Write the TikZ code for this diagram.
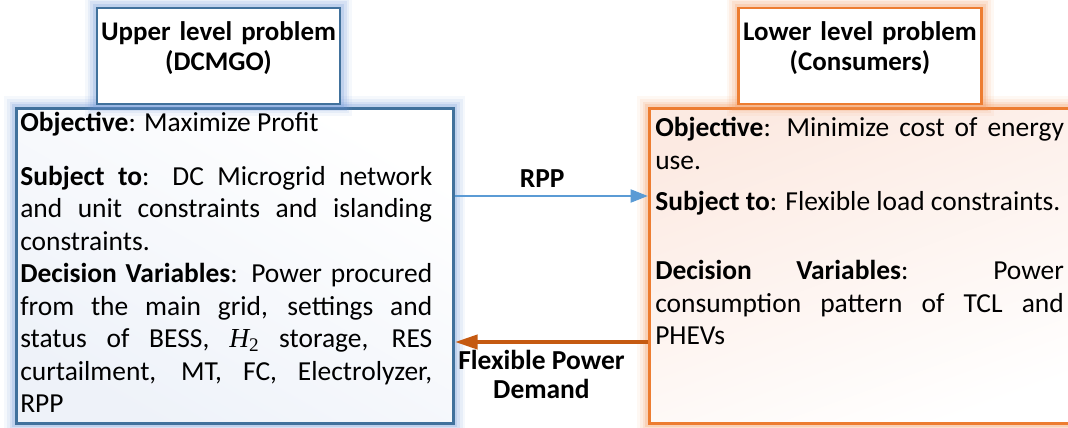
\documentclass[tikz,border=0pt]{standalone}
\usepackage{fontspec}
\setmainfont{Carlito}
\newfontfamily\timesfont{Liberation Serif}
\usetikzlibrary{arrows.meta,calc,positioning}
\definecolor{upperline}{RGB}{65,113,156}
\definecolor{upperglow}{RGB}{110,150,215}
\definecolor{upperfill}{RGB}{238,242,249}
\definecolor{lowerline}{RGB}{237,125,49}
\definecolor{lowerglow}{RGB}{242,150,90}
\definecolor{lowerfill}{RGB}{252,234,226}
\definecolor{rppline}{RGB}{91,155,213}
\definecolor{demandline}{RGB}{197,90,17}
\newcommand\bodyfont{\fontsize{20.6pt}{24.4pt}\selectfont}
\newcommand\htwo{{\timesfont\itshape H}\textsubscript{\timesfont 2}}

\begin{document}
\begin{tikzpicture}[x=0.75pt,y=-0.75pt]
\tikzstyle{blueglow}=[preaction={draw=upperglow,line width=18pt,opacity=.07},preaction={draw=upperglow,line width=14pt,opacity=.1},preaction={draw=upperglow,line width=10pt,opacity=.14},preaction={draw=upperglow,line width=6pt,opacity=.22}]
\tikzstyle{orangeglow}=[preaction={draw=lowerglow,line width=18pt,opacity=.07},preaction={draw=lowerglow,line width=14pt,opacity=.1},preaction={draw=lowerglow,line width=10pt,opacity=.14},preaction={draw=lowerglow,line width=6pt,opacity=.22}]
\tikzstyle{upperframe}=[rectangle,draw=upperline,line width=2.2pt,blueglow,minimum width=327.75pt,minimum height=236.25pt,inner sep=0pt,top color=white,bottom color=upperfill,shading angle=-30]
\tikzstyle{lowerframe}=[rectangle,draw=lowerline,line width=2.2pt,orangeglow,minimum width=330pt,minimum height=236.25pt,inner sep=0pt,top color=lowerfill,bottom color=white,shading angle=20]
\tikzstyle{titlebox}=[rectangle,fill=white,line width=2.2pt,text width=182.25pt,align=center,inner xsep=0pt,inner ysep=0pt,text height=24.75pt,text depth=47.25pt,font=\fontsize{20.2pt}{22.5pt}\selectfont\bfseries]
\tikzstyle{bodytext}=[text width=309pt,align=justify,inner sep=0pt,font=\bodyfont]
\tikzstyle{rpparrow}=[draw=rppline,line width=2.2pt,-{Triangle[length=13pt,width=9.5pt]}]
\tikzstyle{demandarrow}=[draw=demandline,line width=3pt,-{Triangle[length=17pt,width=10.5pt]}]
\useasboundingbox (0,0) rectangle (1068,428);

\node[upperframe,anchor=north west] (upperbox) at (15,107) {};
\node[lowerframe,anchor=north west] (lowerbox) at (648,107) {};
\node[titlebox,draw=upperline,blueglow,anchor=base] (uppertitle) at (218.5,41) {Upper level problem\\(DCMGO)};
\node[titlebox,draw=lowerline,orangeglow,anchor=base] (lowertitle) at (860,41) {Lower level problem\\(Consumers)};

\node[bodytext,anchor=base west] (upperbody) at (20,132) {\textbf{Objective}: Maximize Profit\par\vspace{15.4pt}
\textbf{Subject to}: DC Microgrid network\linebreak and unit constraints and islanding\linebreak constraints.\par
\textbf{Decision Variables}: Power procured\linebreak from the main grid, settings and\linebreak status of BESS, \htwo{} storage, RES\linebreak curtailment, MT, FC, Electrolyzer,\linebreak RPP};
\node[bodytext,text width=306.5pt,anchor=base west] (lowerbody) at (655,137) {\textbf{Objective}: Minimize cost of energy\linebreak use.\par\vspace{6.4pt}
\textbf{Subject to}: Flexible load constraints.\par\vspace{27.4pt}
\textbf{Decision Variables}: Power\linebreak consumption pattern of TCL and\linebreak PHEVs};

\draw[rpparrow] ($(upperbox.north east)+(0,89)$) -- node[above=2pt,xshift=-7pt,font=\fontsize{20.6pt}{22pt}\selectfont\bfseries] (rpplabel) {RPP} ($(lowerbox.north west)+(0,89)$);
\draw[demandarrow] ($(lowerbox.north west)+(0,235)$) -- node[below=1pt,xshift=-7.5pt,align=center,font=\fontsize{20.6pt}{21.75pt}\selectfont\bfseries] (demandlabel) {Flexible Power\\Demand} ($(upperbox.north east)+(0,235)$);
\end{tikzpicture}
\end{document}
